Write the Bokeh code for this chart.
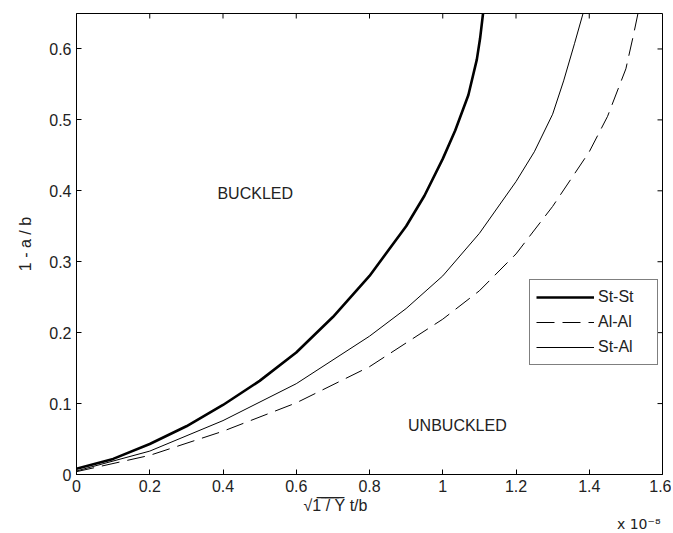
import math
from bokeh.plotting import figure
from bokeh.models import (LinearAxis, FixedTicker, Range1d, Legend, LegendItem, Title)
from bokeh.core.properties import value
from bokeh.embed import file_html
from bokeh.resources import INLINE

# ---- data (x in units of 1e-8) ----
x_stst = [0.0, 0.1, 0.2, 0.3, 0.4, 0.5, 0.6, 0.7, 0.8, 0.9, 0.95, 1.0, 1.034, 1.07,
          1.093, 1.102, 1.11]
y_stst = [0.008, 0.022, 0.043, 0.068, 0.098, 0.132, 0.172, 0.222, 0.28, 0.35, 0.393,
          0.445, 0.485, 0.535, 0.585, 0.615, 0.65]

x_alal = [0.0, 0.2, 0.4, 0.6, 0.8, 1.0, 1.1, 1.2, 1.3, 1.4, 1.45, 1.5, 1.52, 1.533]
y_alal = [0.004, 0.027, 0.061, 0.101, 0.152, 0.219, 0.259, 0.311, 0.378, 0.455, 0.505,
          0.572, 0.618, 0.65]

x_stal = [0.0, 0.2, 0.4, 0.6, 0.8, 0.9, 1.0, 1.1, 1.2, 1.25, 1.3, 1.33, 1.36, 1.383]
y_stal = [0.005, 0.033, 0.076, 0.128, 0.195, 0.234, 0.28, 0.34, 0.413, 0.455, 0.508,
          0.555, 0.608, 0.65]

x_ticks = [0, 0.2, 0.4, 0.6, 0.8, 1.0, 1.2, 1.4, 1.6]
x_tick_labels = ["0", "0.2", "0.4", "0.6", "0.8", "1", "1.2", "1.4", "1.6"]
y_ticks = [0, 0.1, 0.2, 0.3, 0.4, 0.5, 0.6]
y_tick_labels = ["0", "0.1", "0.2", "0.3", "0.4", "0.5", "0.6"]

x_min, x_max = 0.0, 1.6
y_min, y_max = 0.0, 0.65

region_labels = ["BUCKLED", "UNBUCKLED"]
region_x = [0.488, 1.04]
region_y = [0.396, 0.069]

FONT = "Liberation Sans"
TXT = "#222222"

p = figure(width=671, height=531, output_backend="svg", toolbar_location=None,
           x_range=Range1d(x_min, x_max), y_range=Range1d(y_min, y_max),
           x_axis_location=None, y_axis_location=None,
           min_border_left=76, min_border_right=9, min_border_top=13, min_border_bottom=57)
p.grid.visible = False
p.outline_line_color = "black"
p.outline_line_width = 1
p.background_fill_color = "white"
p.border_fill_color = "white"


def make_axis(ticks, labels):
    ax = LinearAxis(ticker=FixedTicker(ticks=ticks),
                    major_label_overrides={t: l for t, l in zip(ticks, labels)})
    ax.major_tick_in = 5
    ax.major_tick_out = 0
    ax.minor_tick_in = 0
    ax.minor_tick_out = 0
    ax.axis_line_color = "black"
    ax.major_tick_line_color = "black"
    ax.major_label_text_font = FONT
    ax.major_label_text_font_size = "16px"
    ax.major_label_text_color = TXT
    return ax


xb = make_axis(x_ticks, x_tick_labels)
xb.major_label_standoff = 5
yl = make_axis(y_ticks, y_tick_labels)
yl.major_label_standoff = 5
yl.axis_label = "1 - a / b"
yl.axis_label_text_font = FONT
yl.axis_label_text_font_size = "16px"
yl.axis_label_text_font_style = "normal"
yl.axis_label_text_color = TXT
yl.axis_label_standoff = 12
p.add_layout(xb, "below")
p.add_layout(yl, "left")

# x-axis label and exponent as text rows below the axis
xlabel = Title(text="\u221a1\u0305 \u0305/\u0305 \u0305Y\u0305  t/b", align="left", offset=227,
               text_font=FONT, text_font_size="16px", text_font_style="normal",
               text_color=TXT, standoff=0)
mult = Title(text="x 10\u207b\u2078", align="right", offset=2,
             text_font="DejaVu Sans", text_font_size="14px", text_font_style="normal",
             text_color=TXT, standoff=0)
p.add_layout(xlabel, "below")
p.add_layout(mult, "below")

# inward ticks on the top and right edges of the box
p.ray(x=x_ticks, y=[y_max] * len(x_ticks), length=5, length_units="screen",
      angle=-math.pi / 2, line_color="black", line_width=1)
p.ray(x=[x_max] * len(y_ticks), y=y_ticks, length=5, length_units="screen",
      angle=math.pi, line_color="black", line_width=1)

r1 = p.line(x_stst, y_stst, line_color="black", line_width=2.6)
r2 = p.line(x_alal, y_alal, line_color="black", line_width=1, line_dash="18 8")
r3 = p.line(x_stal, y_stal, line_color="black", line_width=1)

p.text(x=region_x, y=region_y, text=region_labels, text_font=value(FONT),
       text_font_size="16px", text_align="center", text_baseline="middle",
       text_color=TXT)

legend = Legend(items=[LegendItem(label="St-St", renderers=[r1]),
                       LegendItem(label="Al-Al", renderers=[r2]),
                       LegendItem(label="St-Al", renderers=[r3])],
                location=(453, 109), orientation="vertical")
legend.border_line_color = "black"
legend.border_line_width = 1
legend.background_fill_color = "white"
legend.background_fill_alpha = 1
legend.label_text_font = FONT
legend.label_text_font_size = "16px"
legend.label_text_color = TXT
legend.glyph_width = 58
legend.glyph_height = 22
legend.label_height = 22
legend.label_width = 53
legend.label_standoff = 4
legend.spacing = 3
legend.padding = 6
legend.margin = 0
p.add_layout(legend, "center")

open("out.html", "w").write(file_html(p, INLINE))
